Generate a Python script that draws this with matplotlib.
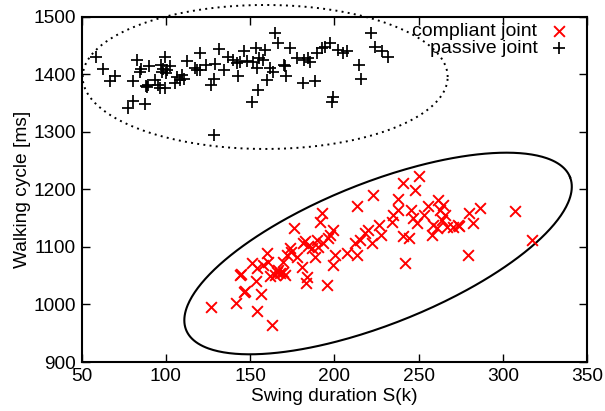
import numpy as np
import matplotlib
matplotlib.use("Agg")
import matplotlib.pyplot as plt

plt.rcParams['font.family'] = ['Liberation Sans', 'DejaVu Sans']

# passive joint (black +)
passive_x = [58.6, 62.6, 66.9, 69.9, 77.8, 80.4, 87.7, 80.7, 82.7, 85.3, 90.2, 88.3, 89.6, 93.6, 95.6,
             97.0, 97.6, 96.6, 99.6, 99.6, 100.1, 102.5, 100.9, 105.5, 106.9, 109.5, 110.8, 112.4, 117.4,
             118.7, 120.3, 123.7, 126.7, 128.6, 128.6, 129.2, 131.8, 134.6, 137.1, 139.7, 143.1, 144.1,
             146.4, 148.4, 151.6, 153.6, 154.0, 155.5, 151.0, 154.9, 157.5, 158.9, 159.9, 161.9, 163.9,
             164.8, 166.8, 170.4, 171.6, 173.6, 178.1, 181.6, 184.6, 185.6, 188.5, 190.0, 192.6, 194.5,
             197.5, 198.5, 199.4, 202.4, 205.0, 207.3, 214.8, 215.7, 221.6, 224.2, 228.2, 232.1,
             84.7, 108.5, 120.3, 89.0, 142.5, 170.8, 182.0, 98.5]
passive_y = [1430, 1410, 1389, 1397, 1341, 1354, 1349, 1389, 1425, 1410, 1415, 1380, 1382, 1390, 1381,
             1417, 1405, 1376, 1431, 1376, 1402, 1414, 1408, 1386, 1395, 1399, 1393, 1424, 1411,
             1408, 1437, 1417, 1382, 1393, 1295, 1419, 1444, 1408, 1430, 1425, 1397, 1422,
             1440, 1424, 1422, 1446, 1411, 1428, 1353, 1373, 1425, 1443, 1390, 1411, 1405,
             1472, 1454, 1417, 1397, 1446, 1428, 1385, 1428, 1422, 1389, 1437, 1446, 1448,
             1455, 1353, 1360, 1443, 1438, 1440, 1417, 1393, 1473, 1447, 1440, 1431,
             1405, 1390, 1408, 1378, 1420, 1415, 1425, 1410]

# compliant joint (red x)
compliant_x = [126.7, 141.7, 154.3, 162.9, 144.1, 146.4, 147.0, 153.6, 156.3, 151.0, 154.3, 160.0, 160.9,
               161.9, 164.8, 167.8, 169.8, 170.8, 169.4, 171.8, 173.7, 176.1, 177.7, 180.7, 181.6, 183.2,
               183.6, 184.6, 186.6, 188.6, 189.6, 191.5, 192.5, 193.5, 195.5, 196.5, 197.5, 199.1, 199.5,
               200.5, 207.3, 212.3, 213.3, 213.7, 218.2, 220.2, 222.2, 223.2, 226.7, 227.5, 234.1, 235.0,
               237.7, 238.0, 240.6, 241.0, 242.0, 244.5, 245.3, 246.9, 247.9, 248.9, 250.5, 253.3, 255.8,
               257.8, 258.8, 260.8, 261.7, 262.8, 263.8, 264.7, 265.7, 267.1, 270.2, 273.5, 274.1, 279.3,
               279.8, 282.4, 286.5, 307.3, 317.2,
               144.8, 158.0, 165.8, 174.5, 182.5, 190.5, 166.5, 215.5]
compliant_y = [996, 1002, 989, 964, 1051, 1022, 1024, 1040, 1019, 1072, 1063, 1089, 1074,
               1049, 1051, 1054, 1057, 1051, 1074, 1086, 1098, 1133, 1083, 1066, 1107, 1037,
               1048, 1101, 1098, 1083, 1112, 1144, 1159, 1107, 1034, 1115, 1121, 1130, 1069,
               1086, 1089, 1107, 1086, 1171, 1124, 1130, 1107, 1190, 1138, 1121, 1144, 1156,
               1183, 1164, 1212, 1119, 1072, 1115, 1164, 1150, 1199, 1141, 1223, 1156, 1171,
               1121, 1138, 1133, 1182, 1164, 1147, 1173, 1156, 1135, 1134, 1138, 1137, 1086,
               1159, 1141, 1167, 1163, 1112,
               1053, 1068, 1056, 1092, 1110, 1100, 1060, 1112]

x_ticks = [50, 100, 150, 200, 250, 300, 350]
y_ticks = [900, 1000, 1100, 1200, 1300, 1400, 1500]

fig = plt.figure(figsize=(6.05, 4.11), dpi=100)
ax = fig.add_axes([81.5 / 605, 1 - 362 / 411, (587 - 81.5) / 605, (362 - 17) / 411])

ax.scatter(compliant_x, compliant_y, marker='x', s=60, c='red', linewidths=1.4,
           label='compliant joint', zorder=3)
ax.scatter(passive_x, passive_y, marker='+', s=80, c='black', linewidths=1.25,
           label='passive joint', zorder=3)

ax.set_xlim(50, 350)
ax.set_ylim(900, 1500)

# data units per display pixel
ux = 300 / 505.5
uy = 600 / 345.0
t = np.linspace(0, 2 * np.pi, 400)

# dotted ellipse (passive)
cx1, cy1, a1, b1 = 159.0, 1395.7, 182.5, 72.0
ax.plot(cx1 + a1 * np.cos(t) * ux, cy1 + b1 * np.sin(t) * uy, color='black',
        linestyle=(0, (1, 2.2)), lw=1.4, clip_on=False)

# solid rotated ellipse (compliant)
cx2, cy2, a2, b2, th = 226.0, 1088.7, 206.6, 70.8, np.deg2rad(21.7)
ex = a2 * np.cos(t) * np.cos(th) - b2 * np.sin(t) * np.sin(th)
ey = a2 * np.cos(t) * np.sin(th) + b2 * np.sin(t) * np.cos(th)
ax.plot(cx2 + ex * ux, cy2 + ey * uy, color='black', lw=1.5, clip_on=False)

ax.set_xticks(x_ticks)
ax.set_yticks(y_ticks)
ax.tick_params(direction='in', length=6, width=1.0, top=True, right=True, labelsize=13.8, pad=4)
for s in ax.spines.values():
    s.set_linewidth(1.5)
ax.set_xlabel('Swing duration S(k)', fontsize=13.8, labelpad=2.5)
ax.set_ylabel('Walking cycle [ms]', fontsize=13.8, labelpad=2)

leg = ax.legend(loc='upper right', bbox_to_anchor=(0.973, 0.985), frameon=False,
                markerfirst=False, fontsize=14, handletextpad=0.35, borderaxespad=0.0,
                labelspacing=0.0, handlelength=1.5, borderpad=0.0)

fig.savefig('out.png', dpi=100)
